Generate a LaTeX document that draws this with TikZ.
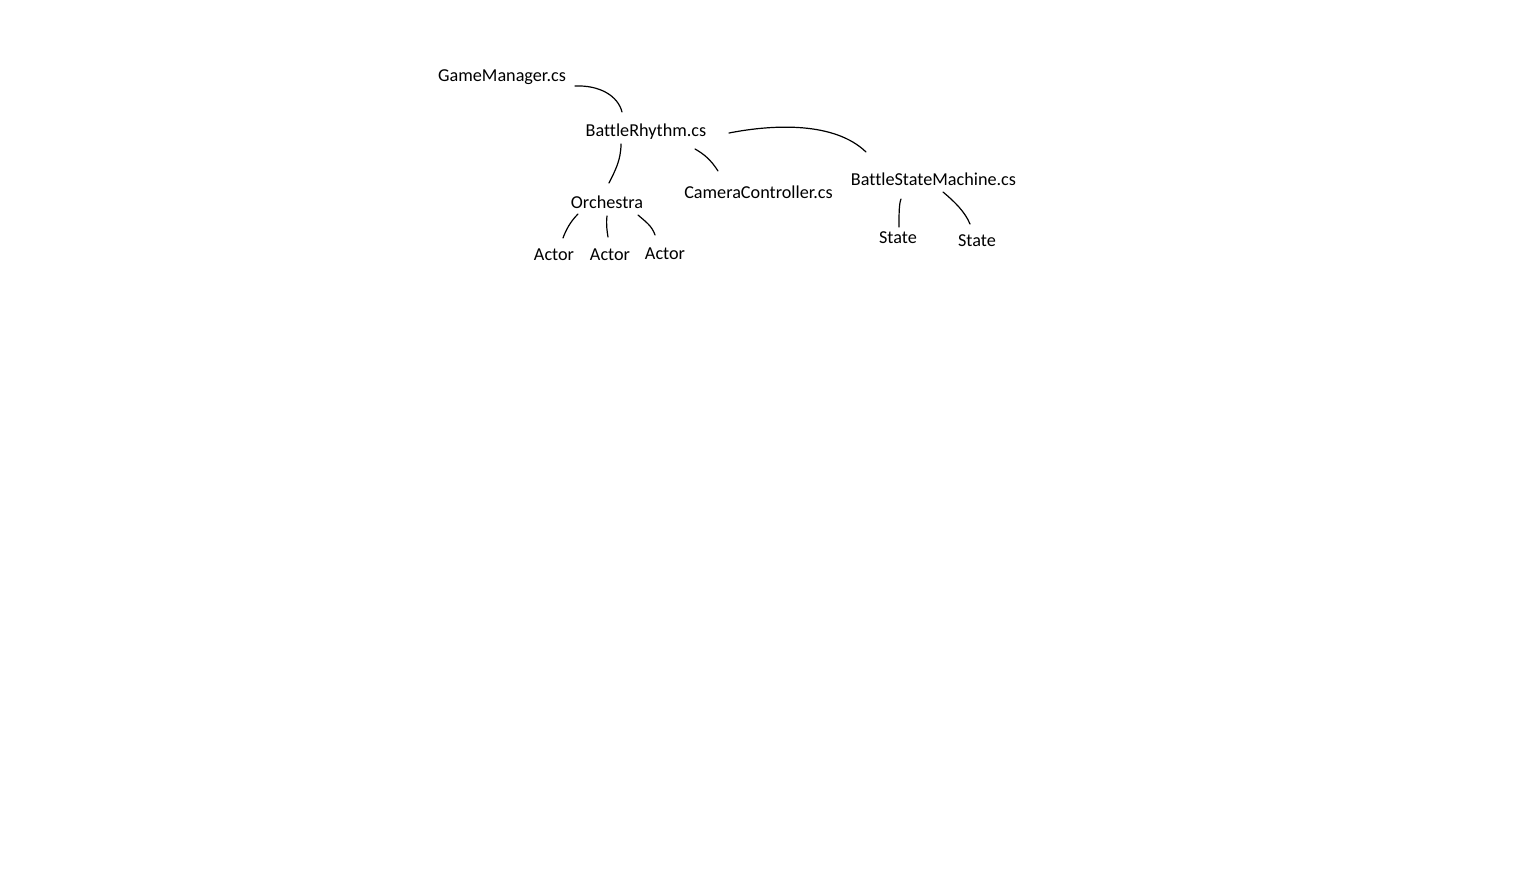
\documentclass[tikz,border=0pt]{standalone}
\usepackage{fontspec}
\setmainfont{Carlito}[Ligatures={NoCommon}]
\begin{document}
\begin{tikzpicture}[x=1pt,y=-1pt,
  label/.style={inner sep=0pt,anchor=base,font=\fontsize{18.2pt}{21pt}\selectfont},
  link/.style={line width=1.2pt,line cap=round,line join=round}]
\useasboundingbox[fill=white] (0,0) rectangle (1518,870);

% class / object names
\node[label] (gm)   at (502,81)    {GameManager.cs};
\node[label] (br)   at (646,136)   {BattleRhythm.cs};
\node[label] (orch) at (607,208)   {Orchestra};
\node[label] (cam)  at (758.5,198) {CameraController.cs};
\node[label] (bsm)  at (933.5,185) {BattleStateMachine.cs};
\node[label] (a1)   at (554,260)   {Actor};
\node[label] (a2)   at (610,260)   {Actor};
\node[label] (a3)   at (665,259)   {Actor};
\node[label] (s1)   at (898,243)   {State};
\node[label] (s2)   at (977,246)   {State};

% free-hand connector ends
\coordinate (gm-o)   at (575,86);
\coordinate (br-i)   at (622,112);
\coordinate (br-o1)  at (621,144);
\coordinate (orch-i) at (609,183);
\coordinate (br-o2)  at (695,149);
\coordinate (cam-i)  at (718,171);
\coordinate (br-o3)  at (729,133);
\coordinate (bsm-i)  at (866,152);
\coordinate (orch-o1) at (578,214);
\coordinate (a1-i)   at (563,238);
\coordinate (orch-o2) at (607,216);
\coordinate (a2-i)   at (608,237);
\coordinate (orch-o3) at (638,215);
\coordinate (a3-i)   at (655,235);
\coordinate (bsm-o1) at (901,199);
\coordinate (s1-i)   at (899,227);
\coordinate (bsm-o2) at (943,192);
\coordinate (s2-i)   at (970,224);

% connectors
\draw[link] (gm-o) .. controls (600,85) and (618,96) .. (br-i);
\draw[link] (br-o1) .. controls (621,160) and (615,171) .. (orch-i);
\draw[link] (br-o2) .. controls (704,154) and (711,160) .. (cam-i);
\draw[link] (br-o3) .. controls (775,124) and (835,122) .. (bsm-i);
\draw[link] (orch-o1) .. controls (570,222) and (566,230) .. (a1-i);
\draw[link] (orch-o2) .. controls (606,224) and (607,231) .. (a2-i);
\draw[link] (orch-o3) .. controls (646,222) and (652,226) .. (a3-i);
\draw[link] (bsm-o1) .. controls (899,204) and (899,214) .. (s1-i);
\draw[link] (bsm-o2) .. controls (955,202) and (965,212) .. (s2-i);
\end{tikzpicture}
\end{document}
